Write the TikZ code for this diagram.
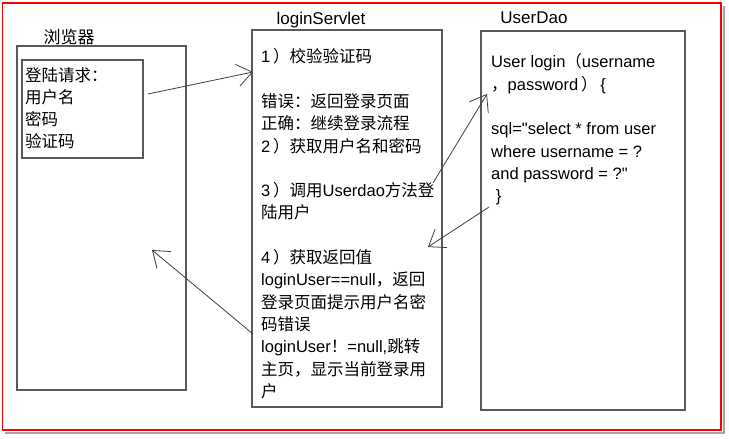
\documentclass[tikz,border=0pt]{standalone}
\usepackage{fontspec}
\setmainfont{Liberation Sans}[Ligatures=TeXOff]
\newfontfamily\cjk{Noto Sans CJK SC}
\usetikzlibrary{arrows.meta}
\newcommand{\zh}[1]{{\cjk #1}}
\definecolor{boxgray}{HTML}{5A5A5A}
\definecolor{arrgray}{HTML}{404040}
\tikzset{
  panel/.style={draw=boxgray, line width=1.1pt},
  title/.style={inner sep=0pt, font=\fontsize{17}{20}\selectfont},
  body/.style={inner sep=0pt, anchor=north west, align=left,
    font=\fontsize{16.5}{22.3}\selectfont},
  flow/.style={draw=arrgray, line width=0.8pt,
    -{Straight Barb[length=15pt,width=22pt,line width=0.8pt]}}
}
\begin{document}
\begin{tikzpicture}[x=1pt,y=-1pt]
\useasboundingbox (0,0) rectangle (729,439);
\fill[white] (0,0) rectangle (729,439);
% frame with shadow
\draw[draw=gray!70, line width=1.5pt] (5,433) -- (724,433) -- (724,6);
\draw[draw=red, line width=1.5pt] (2.5,3) rectangle (721,430);

% browser
\node[panel, minimum width=169pt, minimum height=344pt, inner sep=0pt] (browser) at (101.5,218) {};
\node[title] (browserT) at (69,37) {\zh{浏览器}};
\node[panel, minimum width=121pt, minimum height=98pt, inner sep=0pt] (req) at (82.5,109) {};
\node[body] (reqtext) at (25,67) {\zh{登陆请求：}\\ \zh{用户名}\\ \zh{密码}\\ \zh{验证码}};

% servlet
\node[panel, minimum width=190pt, minimum height=377pt, inner sep=0pt] (servlet) at (347,218.5) {};
\node[title] (servletT) at (321,20) {loginServlet};
\node[body] (servlettext) at (261,48.5) {%
1\,\zh{）校验验证码}\\[22.3pt]
\zh{错误：返回登录页面}\\
\zh{正确：继续登录流程}\\
2\,\zh{）获取用户名和密码}\\[22.3pt]
3\,\zh{）调用}Userdao\zh{方法登}\\
\zh{陆用户}\\[22.3pt]
4\,\zh{）获取返回值}\\
loginUser==null\zh{，返回}\\
\zh{登录页面提示用户名密}\\
\zh{码错误}\\
loginUser\zh{！}=null,\zh{跳转}\\
\zh{主页，显示当前登录用}\\
\zh{户}};

% userdao
\node[panel, minimum width=204pt, minimum height=379pt, inner sep=0pt] (dao) at (583,220.5) {};
\node[title] (daoT) at (534,18) {UserDao};
\node[body] (daotext) at (491,53.5) {%
User login\zh{（}username\\
\zh{，}password\,\zh{）}\,\{\\[22.3pt]
sql="select * from user\\
where username = ?\\
and password = ?"\\
\ \}};

% connectors
\coordinate (a1s) at (148,94);
\coordinate (a1e) at (253,72);
\coordinate (a2s) at (433,183);
\coordinate (a2e) at (487,94);
\coordinate (a3s) at (489,207);
\coordinate (a3e) at (428,247);
\coordinate (a4s) at (253,334);
\coordinate (a4e) at (152,250);
\draw[flow] (a1s) -- (a1e);
\draw[flow] (a2s) -- (a2e);
\draw[flow] (a3s) -- (a3e);
\draw[flow] (a4s) -- (a4e);
\end{tikzpicture}
\end{document}
